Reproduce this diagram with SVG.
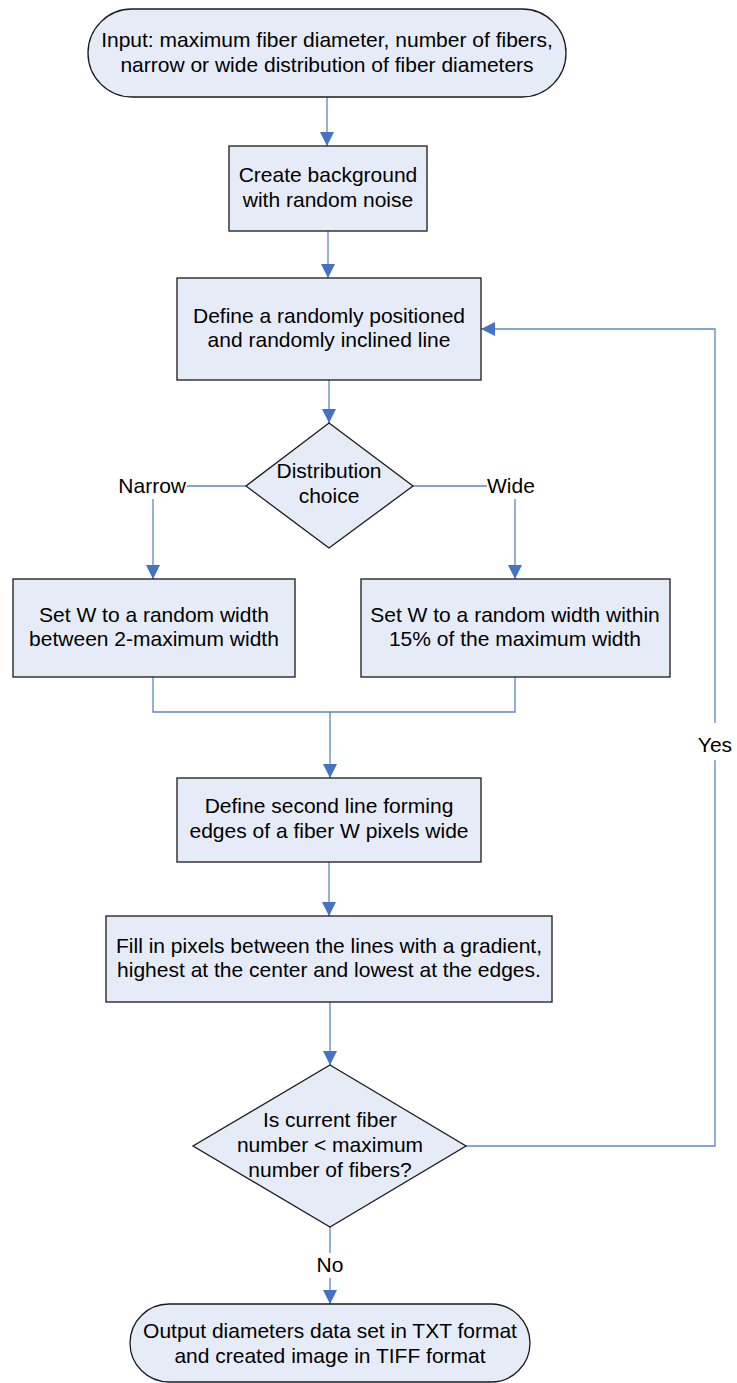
<svg xmlns="http://www.w3.org/2000/svg" width="737" height="1383" viewBox="0 0 737 1383">
  <style>
    .node { fill: #e6ecf7; stroke: #1a1a1a; stroke-width: 1.3; }
    .txt { font-family: "Liberation Sans", Arial, sans-serif; font-size: 21px; fill: #000; text-anchor: middle; }
    .lbl { font-family: "Liberation Sans", Arial, sans-serif; font-size: 21px; fill: #000; }
    .conn { fill: none; stroke: #5b86c8; stroke-width: 1.3; }
  </style>
  <defs>
    <marker id="arrow" markerUnits="userSpaceOnUse" markerWidth="14" markerHeight="14" refX="14" refY="7" orient="auto">
      <path d="M0,0 L14,7 L0,14 Z" fill="#4472c4"/>
    </marker>
  </defs>
  <rect width="737" height="1383" fill="#ffffff"/>

  <!-- connectors -->
  <g id="connectors">
    <path class="conn" d="M327,97 L327,146" marker-end="url(#arrow)"/>
    <path class="conn" d="M328,231 L328,278" marker-end="url(#arrow)"/>
    <path class="conn" d="M329,380 L329,423" marker-end="url(#arrow)"/>
    <!-- narrow branch -->
    <path class="conn" d="M246,486 L187,486"/>
    <path class="conn" d="M153,499 L153,579" marker-end="url(#arrow)"/>
    <!-- wide branch -->
    <path class="conn" d="M413,486 L487,486"/>
    <path class="conn" d="M515,499 L515,579" marker-end="url(#arrow)"/>
    <!-- merge -->
    <path class="conn" d="M153,677 L153,712 L515,712 L515,677"/>
    <path class="conn" d="M330,712 L330,778" marker-end="url(#arrow)"/>
    <path class="conn" d="M329,862 L329,916" marker-end="url(#arrow)"/>
    <path class="conn" d="M330,1002 L330,1065" marker-end="url(#arrow)"/>
    <!-- loop back (yes) -->
    <path class="conn" d="M466,1146 L715,1146 L715,760"/>
    <path class="conn" d="M715,723 L715,329 L481,329" marker-end="url(#arrow)"/>
    <!-- exit (no) -->
    <path class="conn" d="M330,1227 L330,1253"/>
    <path class="conn" d="M330,1278 L330,1304" marker-end="url(#arrow)"/>
    <text class="lbl" x="186" y="493" text-anchor="end">Narrow</text>
    <text class="lbl" x="487" y="493">Wide</text>
    <text class="txt" x="715" y="752">Yes</text>
    <text class="txt" x="330" y="1272">No</text>
  </g>

  <g id="start">
    <rect class="node" x="88" y="9" width="478" height="88" rx="44" ry="44"/>
    <text class="txt" x="327" y="47">Input: maximum fiber diameter, number of fibers,</text>
    <text class="txt" x="327" y="72">narrow or wide distribution of fiber diameters</text>
  </g>

  <g id="background">
    <rect class="node" x="229" y="146" width="198" height="85"/>
    <text class="txt" x="328" y="182">Create background</text>
    <text class="txt" x="328" y="207">with random noise</text>
  </g>

  <g id="define-line">
    <rect class="node" x="177" y="278" width="304" height="102"/>
    <text class="txt" x="329" y="323">Define a randomly positioned</text>
    <text class="txt" x="329" y="347">and randomly inclined line</text>
  </g>

  <g id="distribution">
    <polygon class="node" points="329,423 413,486 329,548 246,486"/>
    <text class="txt" x="329" y="478">Distribution</text>
    <text class="txt" x="329" y="503">choice</text>
  </g>

  <g id="narrow-width">
    <rect class="node" x="13" y="579" width="282" height="98"/>
    <text class="txt" x="154" y="622">Set W to a random width</text>
    <text class="txt" x="154" y="646">between 2-maximum width</text>
  </g>

  <g id="wide-width">
    <rect class="node" x="361" y="579" width="309" height="98"/>
    <text class="txt" x="515" y="622">Set W to a random width within</text>
    <text class="txt" x="515" y="646">15% of the maximum width</text>
  </g>

  <g id="second-line">
    <rect class="node" x="177" y="778" width="304" height="84"/>
    <text class="txt" x="329" y="813">Define second line forming</text>
    <text class="txt" x="329" y="838">edges of a fiber W pixels wide</text>
  </g>

  <g id="fill-gradient">
    <rect class="node" x="106" y="916" width="446" height="86"/>
    <text class="txt" x="329" y="953">Fill in pixels between the lines with a gradient,</text>
    <text class="txt" x="329" y="977">highest at the center and lowest at the edges.</text>
  </g>

  <g id="fiber-check">
    <polygon class="node" points="330,1065 466,1146 330,1227 193,1146"/>
    <text class="txt" x="330" y="1127">Is current fiber</text>
    <text class="txt" x="330" y="1152">number &lt; maximum</text>
    <text class="txt" x="330" y="1177">number of fibers?</text>
  </g>

  <g id="output">
    <rect class="node" x="130" y="1304" width="400" height="78" rx="39" ry="39"/>
    <text class="txt" x="330" y="1338">Output diameters data set in TXT format</text>
    <text class="txt" x="330" y="1363">and created image in TIFF format</text>
  </g>
</svg>
